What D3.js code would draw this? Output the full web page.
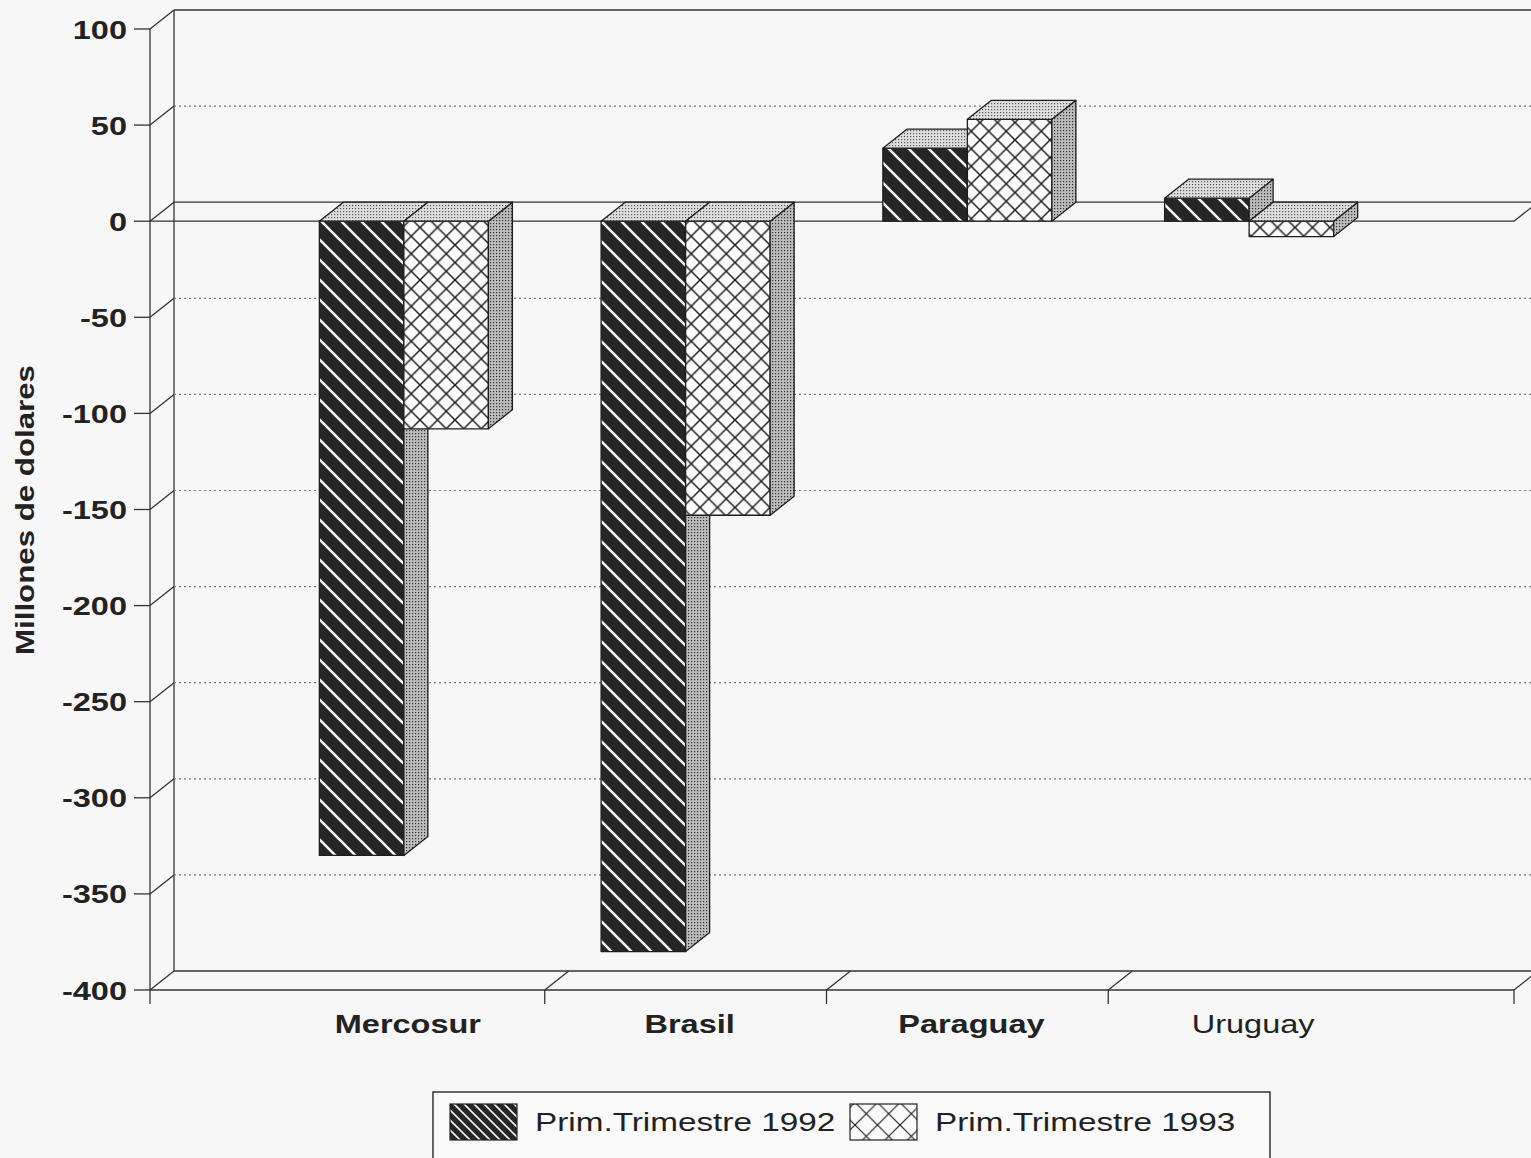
<!DOCTYPE html>
<html>
<head>
<meta charset="utf-8">
<script src="https://cdn.jsdelivr.net/npm/d3@7"></script>
<style>
  html, body { margin: 0; padding: 0; background: #f7f7f7; }
  svg { display: block; }
  text { font-family: "Liberation Sans", Arial, Helvetica, sans-serif; fill: #222; }
</style>
</head>
<body>
<svg id="chart" width="1531" height="1158"></svg>
<script>
// ---- data ----
const categories = ["Mercosur", "Brasil", "Paraguay", "Uruguay"];
const seriesNames = ["Prim.Trimestre 1992", "Prim.Trimestre 1993"];
const values1992 = [-330, -380, 38, 12];
const values1993 = [-108, -153, 53, -8];
const yTicks = [100, 50, 0, -50, -100, -150, -200, -250, -300, -350, -400];
const yLabel = "Millones de dolares";

// ---- layout ----
const W = 1531, H = 1158;
const DX = 24, DY = 19;           // 3D depth offset
const axisX = 150, backX = axisX + DX;
const xEnd = 1514;                 // right end of front floor
const TS = 1.25;                   // horizontal text stretch

const svg = d3.select("#chart");
const y = d3.scaleLinear().domain([-400, 100]).range([990, 29]);
const x = d3.scaleBand().domain(categories).range([263, 1390]);
const barW = x.bandwidth() * 0.3;

// ---- patterns ----
const defs = svg.append("defs");
function hatch(id, s, sw) {
  const p = defs.append("pattern").attr("id", id).attr("patternUnits", "userSpaceOnUse")
    .attr("width", s).attr("height", s);
  p.append("rect").attr("width", s).attr("height", s).attr("fill", "#262626");
  p.append("path").attr("d", `M${-s/2},${-s/2}L${1.5*s},${1.5*s}M${-s/2},${s/2}L${s/2},${1.5*s}M${s/2},${-s/2}L${1.5*s},${s/2}`)
    .attr("stroke", "#f4f4f4").attr("stroke-width", sw);
}
function cross(id, s, sw) {
  const p = defs.append("pattern").attr("id", id).attr("patternUnits", "userSpaceOnUse")
    .attr("width", s).attr("height", s);
  p.append("rect").attr("width", s).attr("height", s).attr("fill", "#fbfbfb");
  p.append("path").attr("d", `M0,0L${s},${s}M${s},0L0,${s}`)
    .attr("stroke", "#1e1e1e").attr("stroke-width", sw);
}
function stipple(id, bg, dot) {
  const p = defs.append("pattern").attr("id", id).attr("patternUnits", "userSpaceOnUse")
    .attr("width", 3).attr("height", 3);
  p.append("rect").attr("width", 3).attr("height", 3).attr("fill", bg);
  p.append("rect").attr("x", 1).attr("y", 1).attr("width", 1.2).attr("height", 1.2).attr("fill", dot);
}
hatch("h92", 20, 2.6);
hatch("h92s", 10, 1.6);
cross("c93", 17.5, 1.5);
cross("c93s", 22.5, 1.2);
stipple("stTop", "#dedede", "#5a5a5a");
stipple("stSide", "#bcbcbc", "#333");

const line = (x1, y1, x2, y2) => svg.append("line")
  .attr("x1", x1).attr("y1", y1).attr("x2", x2).attr("y2", y2)
  .attr("stroke", "#333").attr("stroke-width", 1.3);

// ---- back wall & grid ----
line(backX, y(100) - DY, W + 10, y(100) - DY);
line(backX, y(100) - DY, backX, y(-400) - DY);
yTicks.forEach(t => {
  line(axisX, y(t), backX, y(t) - DY);
  if (t !== 100 && t !== 0 && t !== -400) {
    svg.append("line").attr("x1", backX).attr("x2", W + 10)
      .attr("y1", y(t) - DY).attr("y2", y(t) - DY)
      .attr("stroke", "#777").attr("stroke-width", 1.2).attr("stroke-dasharray", "2,3");
  }
});

// ---- floor ----
line(backX, y(-400) - DY, W + 10, y(-400) - DY);
line(axisX, y(-400), xEnd, y(-400));
const floorTicks = categories.slice(1).map(c => x(c)).concat([xEnd]);
floorTicks.forEach(fx => {
  line(fx, y(-400), fx + DX, y(-400) - DY);
  line(fx, y(-400), fx, y(-400) + 14);
});

// ---- zero plane ----
line(backX, y(0) - DY, W + 10, y(0) - DY);
line(axisX, y(0), xEnd, y(0));
line(xEnd, y(0), xEnd + DX, y(0) - DY);

// ---- y axis ----
line(axisX, y(100), axisX, y(-400) + 14);
yTicks.forEach(t => {
  line(axisX - 16, y(t), axisX, y(t));
  svg.append("text")
    .attr("transform", `translate(127,${y(t) + 9.5}) scale(${TS},1)`)
    .attr("text-anchor", "end").attr("font-size", 26).attr("font-weight", "bold")
    .text(t);
});
svg.append("text")
  .attr("transform", `translate(34,510) rotate(-90)`)
  .attr("text-anchor", "middle").attr("font-size", 25).attr("font-weight", "bold")
  .attr("textLength", 290).attr("lengthAdjust", "spacingAndGlyphs")
  .text(yLabel);

// ---- bars ----
function bar3d(x0, v, fillId) {
  const x1 = x0 + barW;
  const yt = y(Math.max(v, 0)), yb = y(Math.min(v, 0));
  const g = svg.append("g").attr("stroke", "#1e1e1e").attr("stroke-width", 1.3).attr("stroke-linejoin", "round");
  g.append("rect").attr("x", x0).attr("y", yt).attr("width", barW).attr("height", yb - yt)
    .attr("fill", `url(#${fillId})`);
  g.append("path").attr("d", `M${x1},${yt}L${x1 + DX},${yt - DY}L${x1 + DX},${yb - DY}L${x1},${yb}Z`)
    .attr("fill", "url(#stSide)");
  g.append("path").attr("d", `M${x0},${yt}L${x0 + DX},${yt - DY}L${x1 + DX},${yt - DY}L${x1},${yt}Z`)
    .attr("fill", "url(#stTop)");
}
categories.forEach((c, i) => {
  const cx = x(c) + x.bandwidth() / 2;
  bar3d(cx - barW, values1992[i], "h92");
  bar3d(cx, values1993[i], "c93");
});

// ---- category labels ----
categories.forEach((c, i) => {
  svg.append("text")
    .attr("transform", `translate(${x(c) + x.bandwidth() / 2 + 4},1033) scale(${TS},1)`)
    .attr("text-anchor", "middle").attr("font-size", 26)
    .attr("font-weight", i === categories.length - 1 ? "normal" : "bold")
    .text(c);
});

// ---- legend ----
svg.append("rect").attr("x", 433).attr("y", 1092).attr("width", 837).attr("height", 100)
  .attr("fill", "#f9f9f9").attr("stroke", "#333").attr("stroke-width", 1.5);
const legendX = [450, 850];
const legendFill = ["h92s", "c93s"];
seriesNames.forEach((s, i) => {
  svg.append("rect").attr("x", legendX[i]).attr("y", 1104).attr("width", 67).attr("height", 36)
    .attr("fill", `url(#${legendFill[i]})`).attr("stroke", "#222").attr("stroke-width", 1.2);
  svg.append("text")
    .attr("transform", `translate(${legendX[i] + 85},1131) scale(1.28,1)`)
    .attr("font-size", 26).text(s);
});
</script>
</body>
</html>
